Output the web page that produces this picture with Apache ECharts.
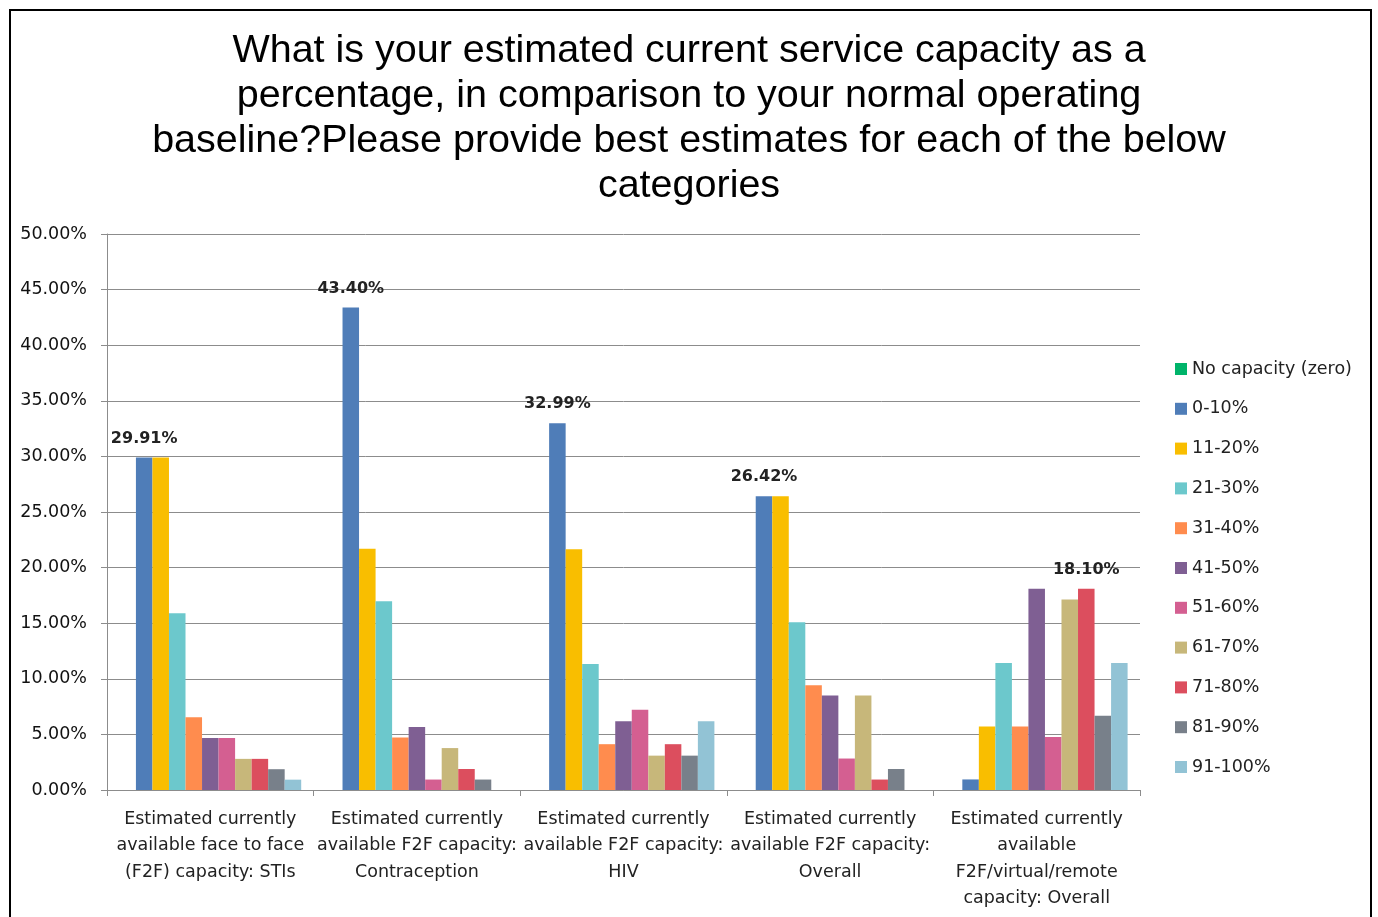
<!DOCTYPE html>
<html>
<head>
<meta charset="utf-8">
<title>service capacity</title>
<script src="https://cdn.jsdelivr.net/npm/echarts@6/dist/echarts.min.js"></script>
<style>
    html, body { margin:0; padding:0; background:#fff; }
    #barChart { width:1378px; height:917px; }
</style>
</head>
<body>
<div id="barChart"></div>
<script>
    //图表数据（百分比）
    var categories = [
        'Estimated currently\navailable face to face\n(F2F) capacity: STIs',
        'Estimated currently\navailable F2F capacity:\nContraception',
        'Estimated currently\navailable F2F capacity:\nHIV',
        'Estimated currently\navailable F2F capacity:\nOverall',
        'Estimated currently\navailable\nF2F/virtual/remote\ncapacity: Overall'
    ];
    var legendNames = ['No capacity (zero)','0-10%','11-20%','21-30%','31-40%','41-50%',
        '51-60%','61-70%','71-80%','81-90%','91-100%'];
    var noCapacity = [0, 0, 0, 0, 0];
    var pct0to10   = [29.91, 43.40, 32.99, 26.42, 0.95];
    var pct11to20  = [29.91, 21.70, 21.65, 26.42, 5.71];
    var pct21to30  = [15.89, 16.98, 11.34, 15.09, 11.43];
    var pct31to40  = [6.54, 4.72, 4.12, 9.43, 5.71];
    var pct41to50  = [4.67, 5.66, 6.19, 8.49, 18.10];
    var pct51to60  = [4.67, 0.94, 7.22, 2.83, 4.76];
    var pct61to70  = [2.80, 3.77, 3.09, 8.49, 17.14];
    var pct71to80  = [2.80, 1.89, 4.12, 0.94, 18.10];
    var pct81to90  = [1.87, 0.94, 3.09, 1.89, 6.67];
    var pct91to100 = [0.93, 0, 6.19, 0, 11.43];
    //每组只标注最大值
    var labelOn = ['0-10%','0-10%','0-10%','0-10%','71-80%'];

    var colors = ['#00b46a','#4f7db8','#f9be00','#6cc8cc','#ff8c4e','#7f5f93',
        '#d45f91','#c7b77a','#dc4e5e','#78808a','#92c3d5'];
    var seriesValues = [noCapacity, pct0to10, pct11to20, pct21to30, pct31to40, pct41to50,
        pct51to60, pct61to70, pct71to80, pct81to90, pct91to100];

    //柱子数据，带标注
    function buildData(name, values){
        var arr = [];
        for(var i=0; i<values.length; i++){
            var item = {value: values[i]};
            if(labelOn[i] == name){
                item.label = {show: true};
            }
            arr.push(item);
        }
        return arr;
    }

    function buildSeries(){
        var list = [];
        for(var i=0; i<legendNames.length; i++){
            list.push({
                name: legendNames[i],
                type: 'bar',
                barGap: '0%',
                barCategoryGap: '12%',
                itemStyle: {color: colors[i]},
                label: {
                    show: false,
                    position: 'top',
                    distance: 11,
                    fontFamily: 'DejaVu Sans',
                    fontSize: 16,
                    fontWeight: 'bold',
                    color: '#222',
                    formatter: function(p){ return p.value.toFixed(2) + '%'; }
                },
                data: buildData(legendNames[i], seriesValues[i])
            });
        }
        return list;
    }

    var option = {
        animation: false,
        backgroundColor: '#fff',
        title: {
            text: 'What is your estimated current service capacity as a\npercentage, in comparison to your normal operating\nbaseline?Please provide best estimates for each of the below\ncategories',
            left: 'center',
            top: 24,
            textStyle: {
                fontFamily: 'Liberation Sans',
                fontSize: 39.5,
                lineHeight: 45,
                fontWeight: 'normal',
                color: '#000'
            }
        },
        legend: {
            orient: 'vertical',
            left: 1170,
            top: 355,
            itemWidth: 12,
            itemHeight: 12,
            itemGap: 21.8,
            icon: 'rect',
            selectedMode: false,
            textStyle: {
                fontFamily: 'DejaVu Sans',
                fontSize: 17.5,
                lineHeight: 17,
                color: '#222'
            },
            data: legendNames
        },
        grid: {
            left: 107,
            right: 238,
            top: 234,
            bottom: 127
        },
        xAxis: {
            type: 'category',
            data: categories,
            axisLine: {lineStyle: {color: '#8c8c8c'}},
            axisTick: {show: true, length: 6, inside: false, lineStyle: {color: '#8c8c8c'}},
            axisLabel: {
                interval: 0,
                margin: 16,
                fontFamily: 'DejaVu Sans',
                fontSize: 17.5,
                lineHeight: 26.5,
                color: '#222'
            }
        },
        yAxis: {
            type: 'value',
            min: 0,
            max: 50,
            interval: 5,
            axisLine: {show: true, lineStyle: {color: '#8c8c8c'}},
            axisTick: {show: true, length: 6, lineStyle: {color: '#8c8c8c'}},
            splitLine: {lineStyle: {color: '#8c8c8c'}},
            axisLabel: {
                margin: 20,
                fontFamily: 'DejaVu Sans',
                fontSize: 17.5,
                color: '#111',
                formatter: function(v){ return v.toFixed(2) + '%'; }
            }
        },
        graphic: [{
            type: 'rect',
            shape: {x: 10, y: 10, width: 1361, height: 940},
            style: {fill: 'none', stroke: '#000', lineWidth: 2},
            silent: true
        }],
        series: buildSeries()
    };

    var barChart = echarts.init(document.getElementById('barChart'));
    barChart.setOption(option);
</script>
</body>
</html>
